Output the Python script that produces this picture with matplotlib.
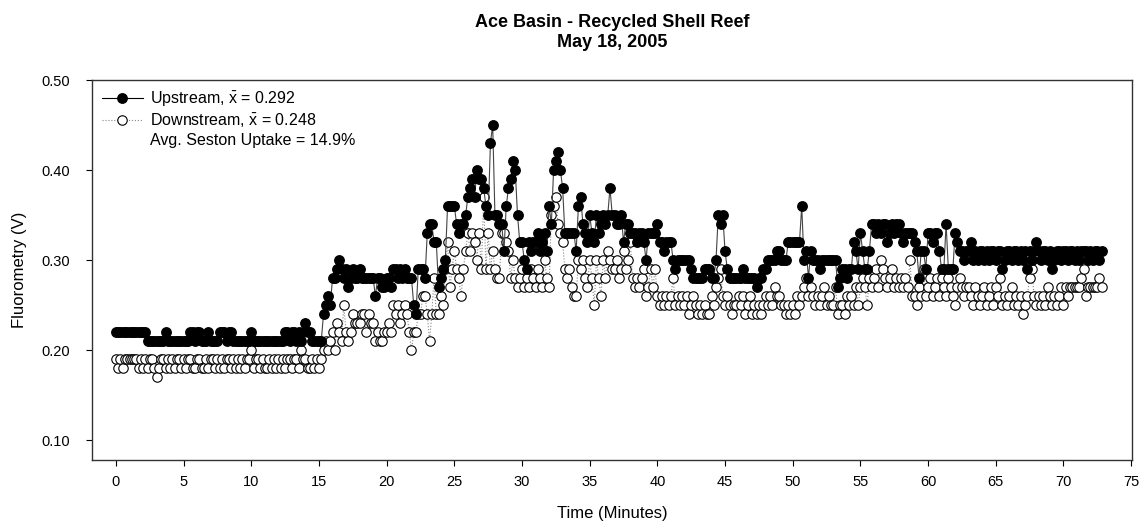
import numpy as np
import matplotlib
matplotlib.use("Agg")
import matplotlib.pyplot as plt
from matplotlib.lines import Line2D

plt.rcParams['font.family'] = ['Liberation Sans', 'DejaVu Sans']
plt.rcParams['mathtext.fontset'] = 'custom'
plt.rcParams['mathtext.rm'] = 'Liberation Sans'
plt.rcParams['mathtext.it'] = 'Liberation Sans'

###### data: fluorometry readings (hundredths of a volt), one row per minute, 10 s sampling ######
upstream_rows = [
    [22, 22, 22, 22, 22, 22], [22, 22, 22, 22, 22, 22], [22, 22, 21, 21, 21, 21],
    [21, 21, 21, 21, 22, 21], [21, 21, 21, 21, 21, 21], [21, 21, 21, 22, 22, 21],
    [22, 22, 21, 21, 21, 22], [21, 21, 21, 21, 22, 22], [22, 21, 22, 22, 21, 21],
    [21, 21, 21, 21, 21, 21], [22, 21, 21, 21, 21, 21], [21, 21, 21, 21, 21, 21],
    [21, 21, 21, 22, 22, 21], [22, 22, 21, 22, 21, 22], [23, 22, 22, 21, 21, 21],
    [21, 21, 24, 25, 26, 25], [28, 28, 29, 30, 29, 28], [29, 27, 28, 29, 28, 28],
    [29, 28, 28, 28, 28, 28], [28, 26, 28, 28, 27, 27], [28, 28, 27, 29, 29, 28],
    [29, 28, 29, 28, 28, 28], [25, 24, 29, 29, 29, 28], [33, 34, 34, 32, 32, 27],
    [28, 29, 30, 36, 36, 36], [36, 34, 33, 34, 34, 35], [37, 38, 39, 37, 40, 39],
    [39, 38, 36, 35, 43, 45], [35, 35, 34, 34, 31, 36], [38, 39, 41, 40, 35, 32],
    [32, 30, 29, 32, 31, 32], [32, 33, 31, 32, 33, 31], [36, 34, 40, 41, 42, 40],
    [38, 33, 33, 33, 33, 33], [31, 36, 37, 34, 33, 32], [35, 33, 32, 35, 33, 34],
    [35, 34, 35, 38, 35, 35], [34, 34, 35, 32, 34, 34], [33, 33, 33, 32, 33, 33],
    [32, 30, 33, 33, 33, 33], [34, 32, 32, 31, 32, 32], [32, 30, 29, 30, 30, 30],
    [30, 30, 30, 29, 28, 28], [28, 28, 28, 29, 29, 29], [28, 28, 30, 35, 34, 35],
    [31, 29, 28, 28, 28, 28], [28, 28, 29, 28, 28, 28], [28, 28, 27, 28, 28, 29],
    [29, 30, 30, 30, 30, 31], [31, 30, 30, 30, 32, 32], [32, 32, 32, 32, 36, 30],
    [31, 28, 31, 30, 30, 30], [29, 30, 30, 30, 30, 30], [30, 30, 27, 28, 29, 29],
    [28, 29, 29, 32, 31, 29], [33, 31, 29, 29, 31, 34], [34, 33, 34, 33, 34, 34],
    [32, 33, 34, 33, 34, 34], [33, 32, 33, 33, 33, 33], [32, 31, 28, 31, 31, 29],
    [33, 33, 32, 33, 33, 31], [29, 29, 34, 29, 29, 29], [33, 32, 31, 31, 30, 31],
    [31, 32, 30, 31, 30, 31], [31, 30, 31, 30, 31, 31], [30, 31, 31, 29, 30, 31],
    [31, 30, 31, 31, 30, 31], [30, 31, 29, 31, 30, 31], [32, 31, 30, 31, 31, 30],
    [31, 29, 30, 31, 31, 30], [31, 31, 30, 31, 31, 30], [31, 30, 31, 31, 31, 30],
    [31, 30, 31, 31, 30, 31],
]

downstream_rows = [
    [19, 18, 19, 18, 19, 19], [19, 19, 19, 19, 18, 19], [18, 19, 18, 19, 19, 18],
    [17, 18, 19, 19, 18, 19], [18, 19, 18, 19, 19, 18], [19, 18, 19, 19, 18, 18],
    [19, 19, 18, 18, 19, 18], [19, 19, 18, 19, 18, 19], [18, 19, 19, 18, 19, 18],
    [19, 18, 19, 18, 19, 19], [20, 18, 19, 19, 18, 19], [18, 18, 19, 18, 19, 18],
    [19, 18, 19, 18, 19, 19], [18, 19, 19, 18, 20, 19], [19, 18, 18, 19, 18, 19],
    [18, 19, 20, 21, 20, 21], [22, 20, 23, 22, 21, 25], [22, 21, 22, 24, 23, 23],
    [23, 24, 24, 22, 24, 23], [23, 21, 22, 21, 21, 22], [22, 23, 22, 25, 24, 25],
    [23, 24, 25, 24, 22, 20], [22, 22, 24, 24, 26, 26], [24, 21, 24, 28, 24, 24],
    [26, 25, 29, 32, 27, 29], [31, 29, 28, 26, 29, 31], [33, 31, 33, 32, 30, 33],
    [29, 37, 29, 33, 29, 31], [29, 28, 28, 33, 33, 32], [31, 28, 30, 28, 27, 28],
    [29, 27, 28, 27, 29, 28], [27, 29, 28, 27, 30, 28], [27, 35, 36, 37, 34, 33],
    [32, 29, 28, 29, 27, 26], [26, 30, 29, 30, 28, 27], [30, 28, 25, 30, 28, 26],
    [30, 28, 31, 30, 29, 29], [30, 28, 29, 31, 29, 30], [32, 28, 27, 28, 27, 28],
    [29, 26, 27, 29, 27, 29], [26, 25, 26, 25, 26, 25], [26, 28, 25, 26, 25, 26],
    [25, 26, 24, 25, 26, 25], [24, 25, 24, 25, 24, 24], [26, 25, 27, 28, 29, 26],
    [25, 26, 25, 24, 25, 25], [26, 25, 26, 24, 25, 26], [24, 25, 24, 25, 24, 25],
    [26, 25, 26, 25, 27, 26], [26, 25, 25, 24, 25, 24], [25, 24, 26, 25, 26, 27],
    [28, 26, 27, 26, 25, 26], [25, 26, 27, 25, 26, 25], [25, 27, 24, 25, 25, 24],
    [26, 25, 26, 25, 27, 25], [27, 28, 27, 25, 28, 27], [28, 29, 27, 30, 29, 28],
    [27, 28, 29, 27, 28, 27], [28, 27, 28, 27, 30, 26], [26, 25, 27, 26, 29, 26],
    [27, 28, 26, 27, 28, 26], [28, 27, 26, 28, 27, 26], [25, 27, 28, 27, 26, 27],
    [27, 26, 25, 27, 26, 25], [26, 27, 25, 26, 27, 25], [27, 26, 28, 25, 26, 25],
    [26, 27, 25, 26, 25, 26], [24, 25, 26, 28, 29, 26], [25, 26, 25, 26, 25, 27],
    [26, 25, 26, 25, 26, 27], [25, 27, 26, 27, 27, 27], [27, 27, 28, 29, 26, 27],
    [27, 27, 27, 27, 28, 27],
]

upstream = np.array(upstream_rows).ravel() / 100.0
downstream = np.array(downstream_rows).ravel() / 100.0
sample_min = 1.0 / 6.0
time_min = np.arange(len(upstream)) * sample_min

up_label = r"Upstream, $\bar{\mathrm{x}}$ = 0.292"
down_label = r"Downstream, $\bar{\mathrm{x}}$ = 0.248"
uptake_label = "Avg. Seston Uptake = 14.9%"

###### plot ######
fig = plt.figure(figsize=(11.46, 5.25), dpi=100)
ax = fig.add_axes([0.0803, 0.1238, 0.9075, 0.7238])

ax.plot(time_min, downstream, color='#888888', linestyle=':', linewidth=0.8,
        marker='o', markersize=6.8, markerfacecolor='white',
        markeredgecolor='black', markeredgewidth=0.8, zorder=2)
ax.plot(time_min, upstream, color='#444444', linestyle='-', linewidth=0.8,
        marker='o', markersize=6.8, markerfacecolor='black',
        markeredgecolor='black', zorder=3)

ax.set_xlim(-1.77, 75.07)
ax.set_ylim(0.078, 0.50)
ax.set_xticks(np.arange(0, 76, 5))
ax.set_yticks([0.10, 0.20, 0.30, 0.40, 0.50])
ax.set_yticklabels(['0.10', '0.20', '0.30', '0.40', '0.50'])
ax.tick_params(direction='out', length=4, width=0.8, labelsize=10.5)
ax.tick_params(axis='y', pad=12)
ax.tick_params(axis='x', pad=7)
for s in ax.spines.values():
    s.set_linewidth(1.0)
    s.set_color('#333333')

ax.set_xlabel('Time (Minutes)', fontsize=12, labelpad=12)
ax.set_ylabel('Fluorometry (V)', fontsize=12, labelpad=10)
ax.set_title('Ace Basin - Recycled Shell Reef\nMay 18, 2005', fontsize=13,
             fontweight='bold', pad=24, linespacing=1.2)

handles = [
    Line2D([], [], color='black', linewidth=0.8, marker='o', markersize=6.8,
           markerfacecolor='black'),
    Line2D([], [], color='#888888', linestyle=':', linewidth=0.8, marker='o',
           markersize=6.8, markerfacecolor='white', markeredgecolor='black',
           markeredgewidth=0.8),
    Line2D([], [], linestyle='none', marker=None),
]
ax.legend(handles, [up_label, down_label, uptake_label], loc='upper left',
          frameon=False, fontsize=11.5, numpoints=1, handlelength=2.6,
          handletextpad=0.4, labelspacing=0.2, borderaxespad=0.2)

fig.savefig('out.png', dpi=100)
